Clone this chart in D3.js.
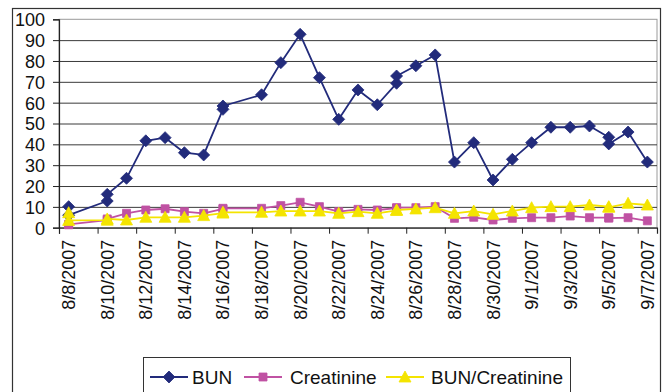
<!DOCTYPE html>
<html>
<head>
<meta charset="utf-8">
<script src="https://cdn.jsdelivr.net/npm/d3@7/dist/d3.min.js"></script>
<style>
  html, body { margin: 0; padding: 0; background: #fff; }
  svg { display: block; font-family: "Liberation Sans", Arial, sans-serif; }
</style>
</head>
<body>
<svg id="chart" width="662" height="392"></svg>
<script>
// Measurement dates (some days have two readings)
const dates = [
  "2007-08-08", "2007-08-08", "2007-08-10", "2007-08-10", "2007-08-11",
  "2007-08-12", "2007-08-13", "2007-08-14", "2007-08-15", "2007-08-16",
  "2007-08-16", "2007-08-18", "2007-08-19", "2007-08-20", "2007-08-21",
  "2007-08-22", "2007-08-23", "2007-08-24", "2007-08-25", "2007-08-25",
  "2007-08-26", "2007-08-27", "2007-08-28", "2007-08-29", "2007-08-30",
  "2007-08-31", "2007-09-01", "2007-09-02", "2007-09-03", "2007-09-04",
  "2007-09-05", "2007-09-05", "2007-09-06", "2007-09-07"
];
const bun = [
  10.1, 6.0, 12.8, 16.0, 23.7,
  41.7, 43.2, 36.0, 34.9, 56.8,
  58.4, 63.8, 79.2, 92.8, 72.0,
  52.0, 66.1, 59.0, 69.3, 72.8,
  77.7, 82.9, 31.5, 40.8, 22.9,
  32.8, 40.8, 48.2, 48.2, 48.8,
  43.4, 40.2, 45.9, 31.5
];
const creatinine = [
  1.4, 1.6, 3.6, 4.2, 6.9,
  8.5, 9.1, 7.7, 6.9, 9.0,
  9.3, 9.3, 10.6, 12.2, 10.1,
  7.7, 8.8, 8.5, 9.4, 9.6,
  9.6, 10.1, 4.5, 5.0, 3.7,
  4.5, 4.8, 4.8, 5.6, 4.8,
  4.8, 4.6, 4.8, 3.3
];
const ratio = [
  7.2, 3.5, 3.6, 4.2, 3.7,
  5.0, 5.0, 5.0, 5.8, 7.0,
  7.4, 7.4, 8.0, 8.0, 8.0,
  6.9, 7.7, 6.9, 8.3, 8.5,
  9.0, 9.6, 6.9, 8.0, 6.4,
  8.0, 9.6, 10.1, 10.1, 10.9,
  10.1, 9.8, 11.7, 10.9
];
const tickLabels = [
  "8/8/2007", "8/10/2007", "8/12/2007", "8/14/2007", "8/16/2007", "8/18/2007",
  "8/20/2007", "8/22/2007", "8/24/2007", "8/26/2007", "8/28/2007", "8/30/2007",
  "9/1/2007", "9/3/2007", "9/5/2007", "9/7/2007"
];
const yTicks = [0, 10, 20, 30, 40, 50, 60, 70, 80, 90, 100];

const seriesNames = ["BUN", "Creatinine", "BUN/Creatinine"];
const seriesColors = ["#222b7b", "#c052a3", "#f4e400"];
const seriesMarkers = ["diamond", "square", "triangle"];
const seriesValues = [bun, creatinine, ratio];

const DAY = 864e5;
const parseISO = d3.utcParse("%Y-%m-%d");
const parseLabel = d3.utcParse("%m/%d/%Y");

const svg = d3.select("#chart");
const plot = { left: 59, right: 657, top: 19.3, bottom: 227.7 };

// One slot per day; points sit in the middle of their day
const x = d3.scaleUtc()
  .domain([parseISO("2007-08-08"), parseISO("2007-09-08")])
  .range([plot.left, plot.right]);
const y = d3.scaleLinear().domain([0, 100]).range([plot.bottom, plot.top]);
const mid = d => new Date(d.getTime() + DAY / 2);

// Outer chart frame
svg.append("rect")
  .attr("x", 12.5).attr("y", 8.5).attr("width", 648).attr("height", 400)
  .attr("fill", "#fff").attr("stroke", "#333").attr("stroke-width", 1.2);

// Plot area frame
svg.append("rect")
  .attr("x", plot.left).attr("y", plot.top)
  .attr("width", plot.right - plot.left).attr("height", plot.bottom - plot.top)
  .attr("fill", "#fff").attr("stroke", "#9a9a9a").attr("stroke-width", 1);

// Horizontal gridlines
const grid = svg.append("g")
  .attr("transform", `translate(${plot.left},0)`)
  .call(d3.axisLeft(y).tickValues(yTicks.filter(v => v > 0 && v < 100))
    .tickSize(-(plot.right - plot.left)).tickFormat(""));
grid.select(".domain").remove();
grid.selectAll("line").attr("stroke", "#3a3a3a").attr("stroke-width", 1);

// Y axis
const yAxis = svg.append("g")
  .attr("transform", `translate(${plot.left},0)`)
  .call(d3.axisLeft(y).tickValues(yTicks).tickSize(6).tickPadding(8));
yAxis.select(".domain").attr("stroke", "#222").attr("stroke-width", 1.2);
yAxis.selectAll("line").attr("stroke", "#222");
yAxis.selectAll("text")
  .attr("font-size", 18).attr("fill", "#111")
  .attr("font-family", "Liberation Sans, Arial, sans-serif")
  .attr("dy", "0.36em");

// X axis: tick marks every two days at day boundaries
const tickDates = tickLabels.map(parseLabel);
const xAxis = svg.append("g")
  .attr("transform", `translate(0,${plot.bottom})`)
  .call(d3.axisBottom(x).tickValues(tickDates).tickSize(6).tickFormat(""));
xAxis.select(".domain").attr("stroke", "#222").attr("stroke-width", 1.2);
xAxis.selectAll("line").attr("stroke", "#222");

// Rotated date labels, centred on their day
svg.append("g").selectAll("text")
  .data(tickLabels)
  .join("text")
  .attr("transform", d => `translate(${x(mid(parseLabel(d)))},${plot.bottom + 12}) rotate(-90)`)
  .attr("text-anchor", "end")
  .attr("dy", "0.36em")
  .attr("font-size", 18)
  .attr("fill", "#111")
  .text(d => d);

// Marker shapes
function markerPath(kind) {
  if (kind === "diamond") return "M0,-6L6,0L0,6L-6,0Z";
  if (kind === "square") return "M-4,-4H4V4H-4Z";
  return "M0,-6L6,5H-6Z";
}

const points = dates.map(parseISO);

seriesValues.forEach((vals, i) => {
  const data = vals.map((v, k) => ({ date: points[k], value: v }));
  const line = d3.line().x(d => x(mid(d.date))).y(d => y(d.value));
  const g = svg.append("g");
  g.append("path")
    .datum(data)
    .attr("d", line)
    .attr("fill", "none")
    .attr("stroke", seriesColors[i])
    .attr("stroke-width", 1.8)
    .attr("stroke-linejoin", "round");
  g.selectAll("path.m")
    .data(data)
    .join("path")
    .attr("class", "m")
    .attr("d", markerPath(seriesMarkers[i]))
    .attr("transform", d => `translate(${x(mid(d.date))},${y(d.value)})`)
    .attr("fill", seriesColors[i])
    .attr("stroke", seriesColors[i])
    .attr("stroke-width", 0.8);
});

// Legend
const legend = svg.append("g");
legend.append("rect")
  .attr("x", 143.5).attr("y", 357.5).attr("width", 427).attr("height", 50)
  .attr("fill", "#fff").attr("stroke", "#333").attr("stroke-width", 1);
const legendX = [150, 244, 386];
const textX = [192, 290, 431];
seriesNames.forEach((name, i) => {
  const cy = 377;
  legend.append("line")
    .attr("x1", legendX[i]).attr("x2", legendX[i] + 38)
    .attr("y1", cy).attr("y2", cy)
    .attr("stroke", seriesColors[i]).attr("stroke-width", 1.8);
  legend.append("path")
    .attr("d", markerPath(seriesMarkers[i]))
    .attr("transform", `translate(${legendX[i] + 19},${cy})`)
    .attr("fill", seriesColors[i]).attr("stroke", seriesColors[i]).attr("stroke-width", 0.8);
  legend.append("text")
    .attr("x", textX[i]).attr("y", cy)
    .attr("dy", "0.36em")
    .attr("font-size", 19)
    .attr("fill", "#111")
    .text(name);
});
</script>
</body>
</html>
